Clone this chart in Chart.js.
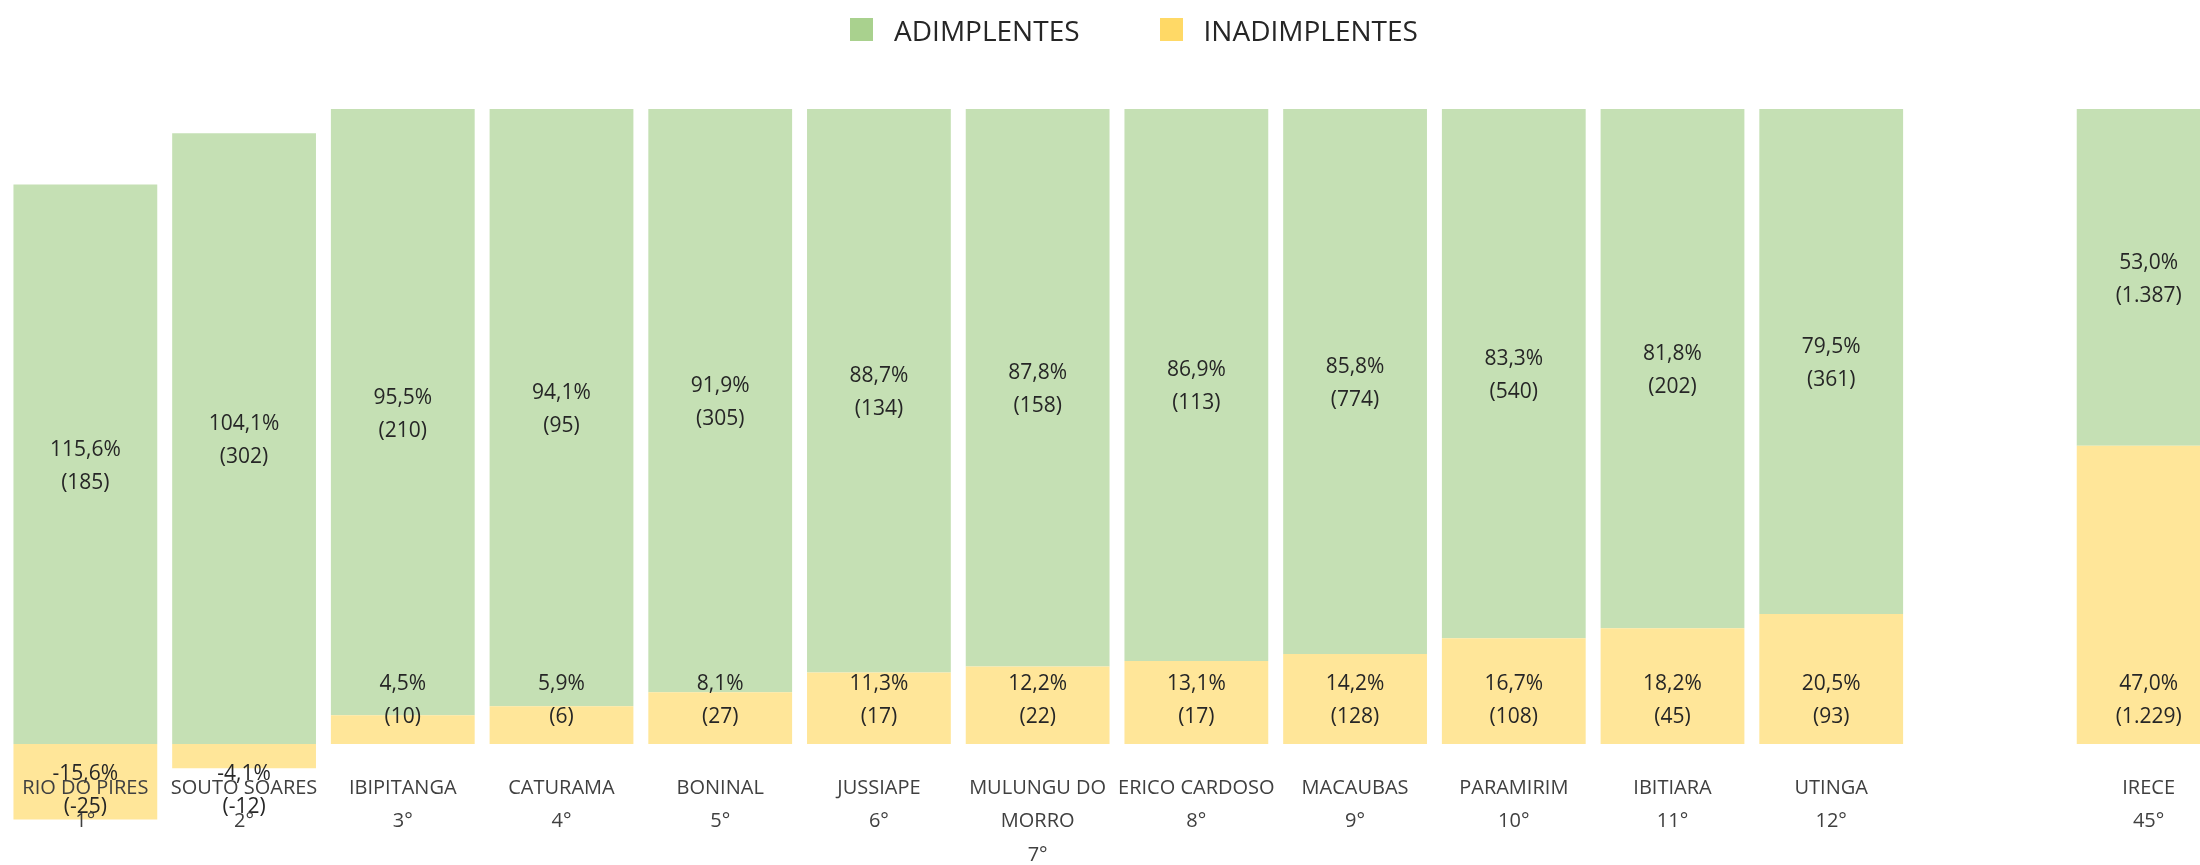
<!DOCTYPE html>
<html lang="pt-BR">
<head>
<meta charset="utf-8">
<title>Adimplentes x Inadimplentes</title>
<script src="https://cdn.jsdelivr.net/npm/chart.js@4/dist/chart.umd.min.js"></script>
<style>
  html, body { margin: 0; padding: 0; background: #fff; overflow: hidden; }
  #wrap { position: relative; width: 2268px; height: 865px; }
  #legenda {
    position: absolute; left: 0; top: 12px; width: 2268px; height: 35px;
    display: flex; justify-content: center; align-items: center;
    font-family: 'Open Sans', sans-serif; font-size: 28px; color: #262626;
  }
  #legenda .item { display: flex; align-items: center; margin: 0 40px; }
  #legenda .cor { width: 23px; height: 23px; margin-right: 21px; }
</style>
</head>
<body>
<div id="wrap">
  <div id="legenda"></div>
  <canvas id="grafica"></canvas>
</div>
<script>
// municipios (a posicao vazia separa os 12 primeiros do IRECE)
var municipios = ['RIO DO PIRES', 'SOUTO SOARES', 'IBIPITANGA', 'CATURAMA', 'BONINAL', 'JUSSIAPE',
                  'MULUNGU DO\nMORRO', 'ERICO CARDOSO', 'MACAUBAS', 'PARAMIRIM', 'IBITIARA', 'UTINGA', '', 'IRECE']
var posicoes = ['1°', '2°', '3°', '4°', '5°', '6°', '7°', '8°', '9°', '10°', '11°', '12°', '', '45°']
var adimplentes   = [185, 302, 210, 95, 305, 134, 158, 113, 774, 540, 202, 361, null, 1387]
var inadimplentes = [-25, -12, 10, 6, 27, 17, 22, 17, 128, 108, 45, 93, null, 1229]

var series = ['ADIMPLENTES', 'INADIMPLENTES']
var coresBarra   = ['#C5E0B4', '#FFE699']
var coresLegenda = ['#A9D18E', '#FFD966']

// altura da barra: parte de cada grupo sobre a soma dos valores absolutos
function parcela(v, i) {
  if (v === null) return null
  return v / (Math.abs(adimplentes[i]) + Math.abs(inadimplentes[i]))
}
// rotulo: percentual sobre o total liquido
function percentual(v, i) {
  var p = v / (adimplentes[i] + inadimplentes[i]) * 100
  return p.toLocaleString('pt-BR', { minimumFractionDigits: 1, maximumFractionDigits: 1 }) + '%'
}

var contagens = [inadimplentes, adimplentes]

var rotulosBarras = {
  id: 'rotulosBarras',
  afterDatasetsDraw: function(chart) {
    var ctx = chart.ctx
    ctx.save()
    ctx.font = '21px "Open Sans", sans-serif'
    ctx.fillStyle = '#262626'
    ctx.textAlign = 'center'
    ctx.textBaseline = 'middle'
    chart.data.datasets.forEach(function(ds, d) {
      var meta = chart.getDatasetMeta(d)
      meta.data.forEach(function(bar, i) {
        var v = contagens[d][i]
        if (v === null) return
        var p = bar.getProps(['x', 'y', 'base'], true)
        var linhas = [percentual(v, i), '(' + v.toLocaleString('pt-BR') + ')']
        var y1
        if (d === 1) {
          y1 = (p.y + p.base) / 2 - 14.5
        } else if (v >= 0) {
          y1 = p.base - 60
        } else {
          y1 = p.base + 30
        }
        ctx.fillText(linhas[0], p.x, y1)
        ctx.fillText(linhas[1], p.x, y1 + 33)
      })
    })
    ctx.restore()
  }
}

function montarLegenda() {
  var el = document.getElementById('legenda')
  series.forEach(function(nome, k) {
    var item = document.createElement('div')
    item.className = 'item'
    var cor = document.createElement('span')
    cor.className = 'cor'
    cor.style.background = coresLegenda[k]
    var txt = document.createElement('span')
    txt.textContent = nome
    item.appendChild(cor)
    item.appendChild(txt)
    el.appendChild(item)
  })
}

function renderChart() {
  var ctx = document.getElementById('grafica').getContext('2d')
  new Chart(ctx, {
    type: 'bar',
    data: {
      labels: municipios,
      datasets: [
        {
          label: series[1],
          data: inadimplentes.map(parcela),
          backgroundColor: coresBarra[1],
          clip: false
        },
        {
          label: series[0],
          data: adimplentes.map(parcela),
          backgroundColor: coresBarra[0],
          clip: false
        }
      ]
    },
    options: {
      responsive: true,
      maintainAspectRatio: false,
      animation: false,
      barPercentage: 0.906,
      categoryPercentage: 1,
      layout: { padding: { top: 109, left: 6, right: 40, bottom: 0 } },
      scales: {
        x: {
          stacked: true,
          // marcas invisiveis: so afastam os rotulos da linha do zero
          grid: { display: false, drawTicks: true, tickLength: 27 },
          border: { display: false },
          afterFit: function(scale) { scale.height = 121 },
          ticks: {
            z: 1,
            autoSkip: false,
            maxRotation: 0,
            padding: 0,
            color: '#404040',
            font: { family: 'Open Sans', size: 20, lineHeight: 1.68 },
            callback: function(valor, i) {
              if (!municipios[i]) return ''
              return municipios[i].split('\n').concat(posicoes[i])
            }
          }
        },
        y: {
          stacked: true,
          display: false,
          min: 0,
          max: 1
        }
      },
      plugins: {
        legend: { display: false },
        tooltip: { enabled: false }
      }
    },
    plugins: [rotulosBarras]
  })
}

montarLegenda()
renderChart()
</script>
</body>
</html>
